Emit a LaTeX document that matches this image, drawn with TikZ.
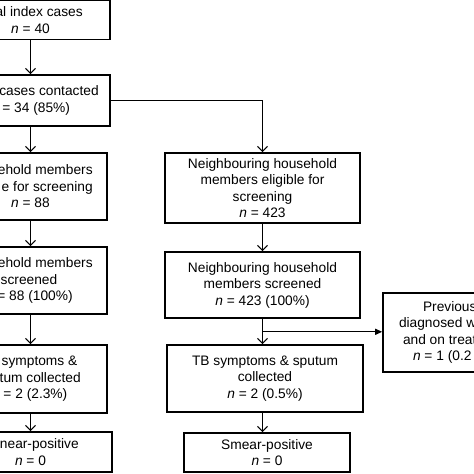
\documentclass[tikz,border=0pt]{standalone}
\usepackage{fontspec}
\setmainfont{Liberation Sans}
\usetikzlibrary{arrows.meta,calc}

\begin{document}
\begin{tikzpicture}[x=1pt, y=-1pt,
  box/.style={draw, line width=1.6pt, align=center, inner sep=0pt, font=\fontsize{13.75}{16.5}\selectfont},
  arr/.style={line width=1.2pt, -{Straight Barb[length=5pt,width=10pt]}},
  tri/.style={line width=1.2pt, -{Triangle[length=7pt,width=6pt]}}]
\useasboundingbox (0,0) rectangle (474,474);
% index household column
\node[box, minimum width=159pt, minimum height=39pt] (b1) at (30.5,20) {\makebox[104.4pt][r]{al index cases}\\ \textit{n} = 40};
\node[box, minimum width=159pt, minimum height=51pt] (b2) at (30.5,100.5) {\makebox[136.4pt][r]{cases contacted}\\ \makebox[79pt][r]{= 34 (85\%)}};
\node[box, minimum width=153pt, minimum height=67pt] (b3) at (30.5,186.5) {\makebox[124.4pt][r]{ehold members}\\ \makebox[124.4pt][r]{e for screening}\\ \textit{n} = 88};
\node[box, minimum width=153pt, minimum height=67pt] (b4) at (30.5,280.5) {\makebox[124.4pt][r]{ehold members}\\ \makebox[53.6pt][r]{screened}\\ \makebox[84.4pt][r]{= 88 (100\%)}};
\node[box, minimum width=153pt, minimum height=68pt] (b5) at (30.5,379) {\makebox[93.6pt][r]{symptoms \&}\\ \makebox[100.4pt][r]{tum collected}\\ \makebox[73.6pt][r]{= 2 (2.3\%)}};
\node[box, minimum width=163pt, minimum height=40pt] (b6) at (30.5,452) {\makebox[96.4pt][r]{near-positive}\\ \textit{n} = 0};
% neighbouring household column
\node[box, minimum width=195pt, minimum height=70pt] (m1) at (262.5,188) {Neighbouring household\\ members eligible for\\ screening\\ \textit{n} = 423};
\node[box, minimum width=195pt, minimum height=66pt] (m2) at (262.5,285) {Neighbouring household\\ members screened\\ \textit{n} = 423 (100\%)};
\node[box, minimum width=196pt, minimum height=67pt] (m3) at (265,378.5) {TB symptoms \& sputum\\ collected\\ \textit{n} = 2 (0.5\%)};
\node[box, minimum width=166pt, minimum height=39pt] (m4) at (267,452.5) {Smear-positive\\ \textit{n} = 0};
% previously diagnosed
\node[box, minimum width=144pt, minimum height=79pt] (r) at (455,332.5) {\makebox[64pt][l]{Previous}\\ \makebox[112pt][l]{diagnosed w}\\ \makebox[104pt][l]{and on treat}\\ \makebox[84pt][l]{\textit{n} = 1 (0.2}};
\coordinate (split) at ($(m2.south)+(0,13)$);
\draw[arr] (b1) -- (b2);
\draw[arr] (b2) -- (b3);
\draw[arr] (b3) -- (b4);
\draw[arr] (b4) -- (b5);
\draw[arr] (b5.south) -- (b5.south |- b6.north);
\draw[arr] (b2.east) -| (m1.north);
\draw[arr] (m1) -- (m2);
\draw[arr] (m2.south) -- (m2.south |- m3.north);
\draw[arr] (m3.south -| m2.south) -- (m4.north -| m2.south);
\draw[tri] (split) -- (split -| r.west);
\end{tikzpicture}
\end{document}
